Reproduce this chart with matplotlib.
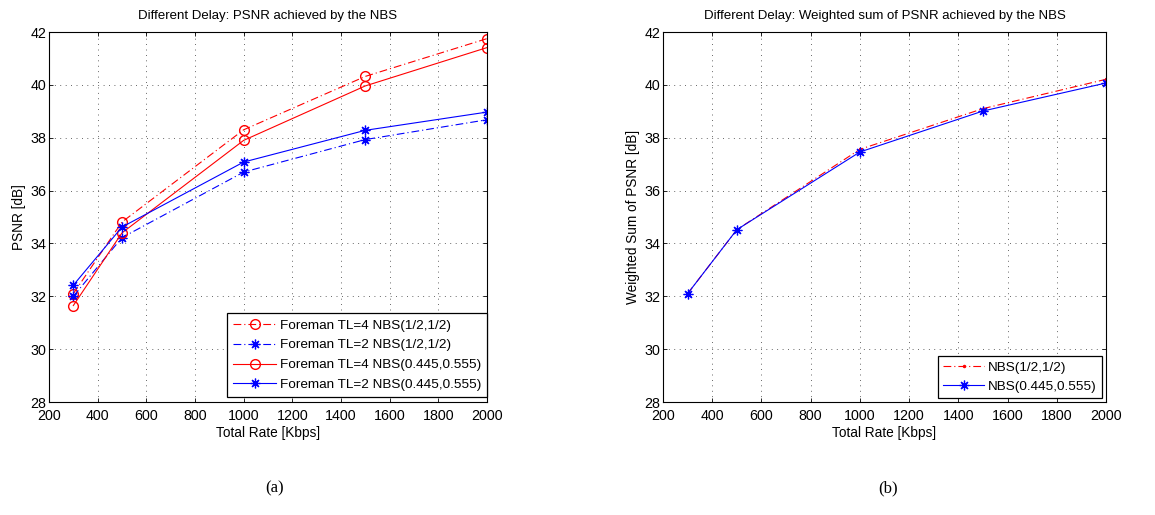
import matplotlib
matplotlib.use("Agg")
import matplotlib.pyplot as plt

plt.rcParams['font.family'] = ['Liberation Sans', 'DejaVu Sans']

rate = [300, 500, 1000, 1500, 2000]

# left panel: per-user PSNR
tl4_half = [32.1, 34.81, 38.30, 40.32, 41.75]
tl2_half = [32.0, 34.22, 36.70, 37.93, 38.68]
tl4_nbs = [31.65, 34.40, 37.90, 39.96, 41.41]
tl2_nbs = [32.42, 34.62, 37.08, 38.28, 38.97]

# right panel: weighted sum
wsum_half = [32.1, 34.52, 37.56, 39.10, 40.21]
wsum_nbs = [32.1, 34.52, 37.46, 39.01, 40.07]

xticks = list(range(200, 2001, 200))
yticks = list(range(28, 43, 2))

LW = 0.8
DASHDOT = (0, (7, 2.7, 1, 2.7))
ASTERISK = (8, 2, 0)


def style_axes(ax):
    ax.set_xlim(200, 2000)
    ax.set_ylim(28, 42)
    ax.set_xticks(xticks)
    ax.set_yticks(yticks)
    ax.tick_params(direction='in', top=True, right=True, labelsize=10.3, length=3, width=0.6)
    ax.tick_params(axis='x', pad=5)
    ax.tick_params(axis='y', pad=2)
    ax.grid(True, linestyle=(0, (1, 5.5)), color='#333333', linewidth=0.6)
    for s in ax.spines.values():
        s.set_linewidth(0.8)
    ax.set_xlabel("Total Rate [Kbps]", fontsize=9.8, labelpad=2)


fig = plt.figure(figsize=(11.55, 5.15), dpi=100)
ax1 = fig.add_axes([49 / 1155, 1 - 402 / 515, 438 / 1155, 370 / 515])
ax2 = fig.add_axes([663 / 1155, 1 - 402 / 515, 443 / 1155, 370 / 515])

ax1.plot(rate, tl4_half, color='red', linestyle=DASHDOT, marker='o', mfc='none', ms=7, lw=LW,
         label='Foreman TL=4 NBS(1/2,1/2)')
ax1.plot(rate, tl2_half, color='blue', linestyle=DASHDOT, marker=ASTERISK, ms=7, mew=0.9, lw=LW,
         label='Foreman TL=2 NBS(1/2,1/2)')
ax1.plot(rate, tl4_nbs, color='red', linestyle='-', marker='o', mfc='none', ms=7, lw=LW,
         label='Foreman TL=4 NBS(0.445,0.555)')
ax1.plot(rate, tl2_nbs, color='blue', linestyle='-', marker=ASTERISK, ms=7, mew=0.9, lw=LW,
         label='Foreman TL=2 NBS(0.445,0.555)')
style_axes(ax1)
ax1.set_ylabel("PSNR [dB]", fontsize=9.8, labelpad=3)
ax1.set_title("Different Delay: PSNR achieved by the NBS", fontsize=9.5, pad=9)
leg1 = ax1.legend(loc='lower right', bbox_to_anchor=(1.0, 0.013), borderaxespad=0,
                  fontsize=9.7, fancybox=False, framealpha=1, edgecolor='black',
                  handlelength=3.2, labelspacing=0.55, handletextpad=0.25, borderpad=0.45)
leg1.get_frame().set_linewidth(0.9)

ax2.plot(rate, wsum_half, color='red', linestyle=DASHDOT, marker='.', ms=3, lw=LW,
         label='NBS(1/2,1/2)')
ax2.plot(rate, wsum_nbs, color='blue', linestyle='-', marker=ASTERISK, ms=7, mew=0.9, lw=LW,
         label='NBS(0.445,0.555)')
style_axes(ax2)
ax2.set_ylabel("Weighted Sum of PSNR [dB]", fontsize=9.8, labelpad=3)
ax2.set_title("Different Delay: Weighted sum of PSNR achieved by the NBS", fontsize=9.5, pad=9)
leg2 = ax2.legend(loc='lower right', bbox_to_anchor=(0.991, 0.011), borderaxespad=0,
                  fontsize=9.7, fancybox=False, framealpha=1, edgecolor='black',
                  handlelength=3.0, labelspacing=0.45, handletextpad=0.3, borderpad=0.4)
leg2.get_frame().set_linewidth(0.9)

fig.text(275 / 1155, 1 - 488 / 515, "(a)", family='Liberation Serif', fontsize=12, ha='center', va='center')
fig.text(888 / 1155, 1 - 488 / 515, "(b)", family='Liberation Serif', fontsize=12, ha='center', va='center')

fig.savefig("out.png", dpi=100)
